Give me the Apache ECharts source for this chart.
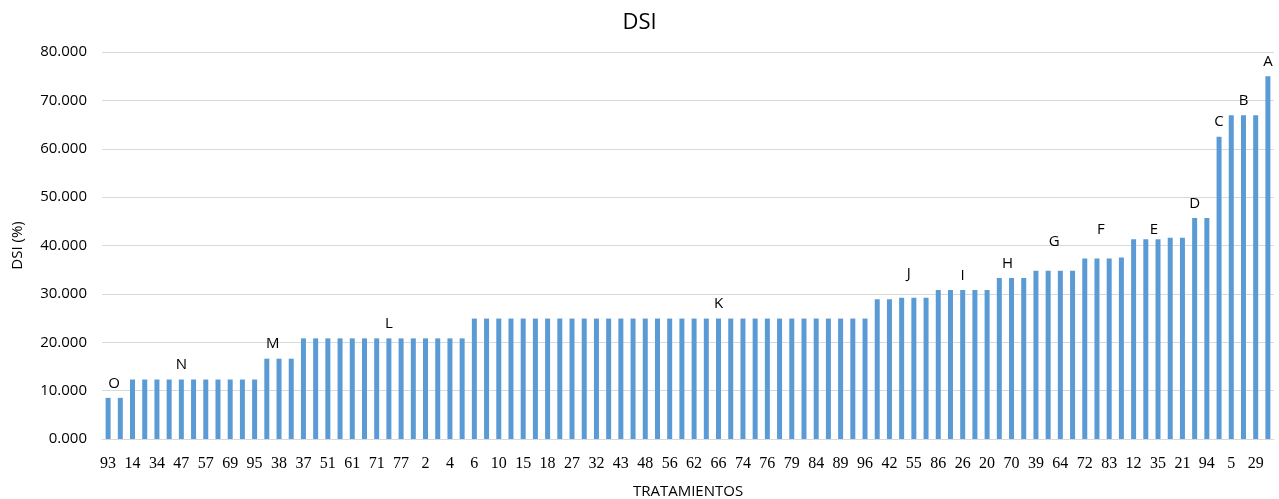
<!DOCTYPE html>
<html>
<head>
<meta charset="utf-8">
<script src="https://cdn.jsdelivr.net/npm/echarts@6/dist/echarts.min.js"></script>
<style>
  html, body { margin: 0; padding: 0; background: #fff; }
  #box { width: 1279px; height: 499px; }
</style>
</head>
<body>
<div id="box"></div>
<script>
// treatment labels shown under every other bar
var tickLabels = ['93', '14', '34', '47', '57', '69', '95', '38', '37', '51', '61', '71', '77', '2', '4', '6',
    '10', '15', '18', '27', '32', '43', '48', '56', '62', '66', '74', '76', '79', '84', '89', '96',
    '42', '55', '86', '26', '20', '70', '39', '64', '72', '83', '12', '35', '21', '94', '5', '29'];

// DSI (%) for the 96 treatments, in the order plotted
var dsiValues = [
    8.5, 8.5,
    12.3, 12.3, 12.3, 12.3, 12.3, 12.3, 12.3, 12.3, 12.3, 12.3, 12.3,
    16.6, 16.6, 16.6,
    20.8, 20.8, 20.8, 20.8, 20.8, 20.8, 20.8, 20.8, 20.8, 20.8, 20.8, 20.8, 20.8, 20.8,
    24.9, 24.9, 24.9, 24.9, 24.9, 24.9, 24.9, 24.9, 24.9, 24.9, 24.9,
    24.9, 24.9, 24.9, 24.9, 24.9, 24.9, 24.9, 24.9, 24.9, 24.9, 24.9,
    24.9, 24.9, 24.9, 24.9, 24.9, 24.9, 24.9, 24.9, 24.9, 24.9, 24.9,
    28.9, 28.9, 29.2, 29.2, 29.2,
    30.8, 30.8, 30.8, 30.8, 30.8,
    33.3, 33.3, 33.3,
    34.8, 34.8, 34.8, 34.8,
    37.3, 37.3, 37.3, 37.5,
    41.3, 41.3, 41.3, 41.6, 41.6,
    45.7, 45.7,
    62.5,
    66.9, 66.9, 66.9,
    75.0
];

// group letters and the bar they sit above
var groupLetters = ['O', 'N', 'M', 'L', 'K', 'J', 'I', 'H', 'G', 'F', 'E', 'D', 'C', 'B', 'A'];
var letterBars = [0, 6, 13, 23, 50, 66, 70, 74, 77, 81, 86, 89, 91, 93, 95];

// little nudges so letters land where the original put them
var letterNudge = {
    O: [6, 0], M: [6, 0], J: [-5, -10], H: [-4, 0], G: [6, -14], F: [4, -14], E: [-4, 5]
};

function initDsiChart() {
    var dom = document.getElementById('box');
    var myChart = echarts.init(dom);

    var categories = [];
    for (var i = 0; i < dsiValues.length; i++) {
        categories.push(i % 2 == 0 ? tickLabels[i / 2] : '');
    }

    var seriesData = dsiValues.map(function (v, idx) {
        var k = letterBars.indexOf(idx);
        if (k < 0) return v;
        var letter = groupLetters[k];
        return {
            value: v,
            label: {
                show: true,
                position: 'top',
                distance: 7,
                formatter: letter,
                offset: letterNudge[letter] || [0, 0]
            }
        };
    });

    var option = {
        backgroundColor: '#fff',
        animation: false,
        title: {
            text: 'DSI',
            left: 'center',
            top: 7,
            textStyle: { fontFamily: 'Open Sans', fontSize: 22, fontWeight: 'normal', color: '#000' }
        },
        grid: { left: 102, right: 5, top: 52, bottom: 60, outerBoundsMode: 'none' },
        xAxis: {
            type: 'category',
            data: categories,
            name: 'TRATAMIENTOS',
            nameLocation: 'middle',
            nameGap: 45,
            nameTextStyle: { fontFamily: 'Open Sans', fontSize: 15, color: '#000' },
            axisLine: { lineStyle: { color: '#d9d9d9' } },
            axisTick: { show: false },
            axisLabel: {
                interval: 1,
                margin: 17,
                fontFamily: 'Liberation Serif',
                fontSize: 16,
                color: '#000'
            }
        },
        yAxis: {
            type: 'value',
            min: 0,
            max: 80,
            interval: 10,
            name: 'DSI (%)',
            nameLocation: 'middle',
            nameGap: 77,
            nameTextStyle: { fontFamily: 'Open Sans', fontSize: 15, color: '#000' },
            axisLine: { show: false },
            axisTick: { show: false },
            splitLine: { lineStyle: { color: '#d9d9d9' } },
            axisLabel: {
                margin: 15,
                fontFamily: 'Open Sans',
                fontSize: 15,
                color: '#000',
                formatter: function (v) { return v.toFixed(3); }
            }
        },
        series: [{
            type: 'bar',
            barWidth: 5,
            itemStyle: { color: '#5b9bd5' },
            label: { fontFamily: 'Open Sans', fontSize: 15, color: '#000' },
            data: seriesData
        }]
    };

    myChart.setOption(option, true);
}

initDsiChart();
</script>
</body>
</html>
